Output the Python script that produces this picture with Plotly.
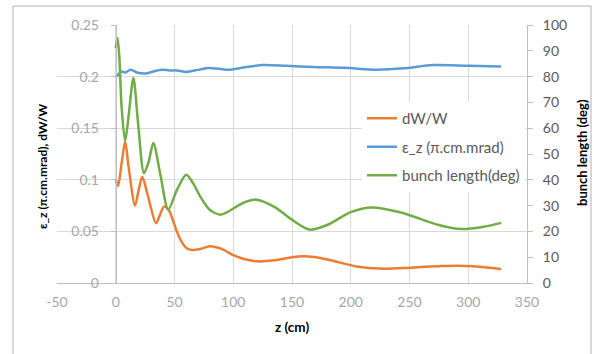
import plotly.graph_objects as go

# ---- data ----
z_dw = [0, 2, 5, 8, 11, 16.4, 19.5, 22.6, 27, 34.3, 38, 41, 45, 48, 52, 56, 60, 65, 72, 80, 90,
        100, 110, 120, 135, 150, 160, 175, 190, 205, 220, 230, 245, 260, 275, 291, 305, 318, 328]
dw = [0.101, 0.094, 0.116, 0.137, 0.112, 0.075, 0.090, 0.103, 0.086, 0.058, 0.067, 0.074, 0.071,
      0.063, 0.050, 0.040, 0.034, 0.032, 0.033, 0.0355, 0.033, 0.027, 0.023, 0.021, 0.022, 0.025,
      0.0258, 0.024, 0.020, 0.016, 0.0142, 0.0139, 0.0145, 0.0155, 0.0163, 0.0168, 0.0162, 0.0148, 0.0136]

z_eps = [0, 3, 5, 8, 12.7, 18, 25, 32, 39, 46, 52, 60, 70, 79, 88, 97, 110, 125, 145, 168, 195,
         222, 245, 270, 300, 328]
eps = [0.1996, 0.203, 0.205, 0.204, 0.2067, 0.204, 0.203, 0.205, 0.2067, 0.206, 0.206, 0.2045,
       0.2065, 0.2083, 0.2075, 0.2067, 0.209, 0.2112, 0.2105, 0.2093, 0.2085, 0.2067, 0.208,
       0.2112, 0.2105, 0.2099]

z_bl = [0, 1.5, 3, 5, 8, 11, 15, 19, 24, 28, 32, 38, 44.7, 52, 60, 66, 72, 80, 89, 97, 104, 112,
        120, 135, 150, 165, 180, 200, 218, 242, 255, 275, 294, 312, 328]
bl = [91, 95, 88, 68, 55, 65, 79.5, 62, 42.6, 47, 54.3, 42, 28.4, 36, 42, 38.5, 33.5, 28.4,
      26.5, 28, 30, 31.7, 32.3, 29.5, 24.5, 20.7, 22.5, 27.5, 29.3, 27.4, 25.5, 22.5, 20.9, 21.7, 23.3]

x_ticks = [-50, 0, 50, 100, 150, 200, 250, 300, 350]
x_ticktext = ["-50", "0", "50", "100", "150", "200", "250", "300", "350"]

names = ["dW/W", "ε_z (π.cm.mrad)", "bunch length(deg)"]
colors = ["#ED7D31", "#5B9BD5", "#70AD47"]

FONT = "Lato"
GRID = "#d9d9d9"
AX = "#bfbfbf"

fig = go.Figure()
fig.add_trace(go.Scatter(x=z_dw, y=dw, name=names[0], mode="lines", legendgroup="a",
                         line=dict(color=colors[0], width=2.5, shape="spline", smoothing=0.8)))
fig.add_trace(go.Scatter(x=z_eps, y=eps, name=names[1], mode="lines", legendgroup="b",
                         line=dict(color=colors[1], width=2.5, shape="spline", smoothing=0.8)))
fig.add_trace(go.Scatter(x=z_bl, y=bl, name=names[2], mode="lines", legendgroup="c", yaxis="y2",
                         line=dict(color=colors[2], width=2.5, shape="spline", smoothing=0.8)))

L, R, T, B = 57, 67, 25, 71
W, H = 594, 354
pw, ph = W - L - R, H - T - B

def px(xp):
    return (xp - L) / pw

def py(yp):
    return (H - B - yp) / ph

fig.update_layout(
    width=W, height=H,
    margin=dict(l=L, r=R, t=T, b=B, pad=0),
    paper_bgcolor="white", plot_bgcolor="white",
    font=dict(family=FONT, size=12, color="#595959"),
    showlegend=True,
    hovermode=False,
    legend=dict(x=px(362), y=py(102), xanchor="left", yanchor="top",
                bgcolor="white", font=dict(family=FONT, size=15, color="#595959"),
                tracegroupgap=6, traceorder="grouped", itemwidth=30),
    xaxis=dict(range=[-50, 350], tickvals=x_ticks, ticktext=x_ticktext,
               showgrid=True, gridcolor=GRID, gridwidth=1, zeroline=False,
               showline=True, linecolor=AX, ticks="", ticklabelstandoff=6,
               tickfont=dict(family=FONT, size=14, color="#a6a6a6")),
    yaxis=dict(range=[0, 0.25], dtick=0.05, anchor="free", position=px(115.75),
               showgrid=True, gridcolor=GRID, zeroline=False,
               showline=True, linecolor=AX, ticks="outside", ticklen=5, tickcolor=AX,
               ticklabelstandoff=9,
               tickfont=dict(family=FONT, size=14, color="#a6a6a6")),
    yaxis2=dict(range=[0, 100], dtick=10, overlaying="y", side="right", anchor="x",
                showgrid=False, zeroline=False, showline=True, linecolor=AX,
                ticks="outside", ticklen=5, tickcolor=AX, ticklabelstandoff=7,
                tickfont=dict(family=FONT, size=14, color="#595959")),
    shapes=[dict(type="rect", xref="paper", yref="paper",
                 x0=px(13), x1=px(591), y0=py(362), y1=py(6),
                 line=dict(color="#b0b0b0", width=1), fillcolor="rgba(0,0,0,0)", layer="below")],
    annotations=[
        dict(text="<b>ε_z (π.cm.mrad), dW/W</b>", xref="paper", yref="paper",
             x=px(42), y=py(166), xanchor="center", yanchor="middle",
             textangle=-90, showarrow=False,
             font=dict(family=FONT, size=12, color="#000000")),
        dict(text="<b>bunch length (deg)</b>", xref="paper", yref="paper",
             x=px(582), y=py(153), xanchor="center", yanchor="middle",
             textangle=-90, showarrow=False,
             font=dict(family=FONT, size=13, color="#000000")),
        dict(text="<b>z (cm)</b>", xref="paper", yref="paper",
             x=px(292), y=py(327), xanchor="center", yanchor="middle", showarrow=False,
             font=dict(family=FONT, size=13.5, color="#000000")),
    ],
)

fig.write_html("out.html", config={"displayModeBar": False},
               post_script="document.body.style.margin='0';document.body.style.overflow='hidden';")
